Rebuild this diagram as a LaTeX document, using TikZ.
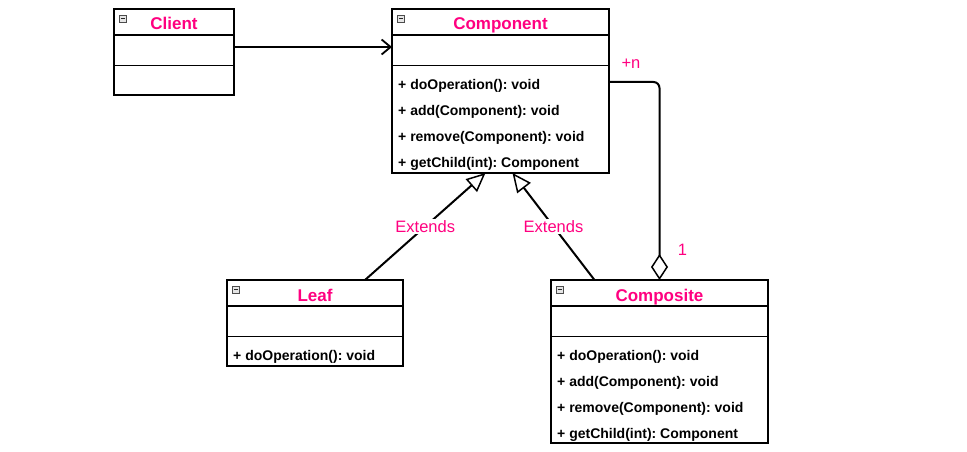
\documentclass[tikz,border=0pt]{standalone}
\usepackage{fontspec}
\setmainfont{Liberation Sans}
\usetikzlibrary{arrows.meta}
\definecolor{umlpink}{RGB}{255,0,128}
\frenchspacing

\begin{document}
\begin{tikzpicture}[x=1pt, y=-1pt,
  classbox/.style={draw, line width=2pt, inner sep=0pt, outer sep=0pt, anchor=north west},
  classname/.style={anchor=base, inner sep=0pt, text=umlpink, font=\fontsize{17}{20}\selectfont\bfseries},
  member/.style={anchor=base west, inner sep=0pt, font=\fontsize{14}{16}\selectfont\bfseries},
  collapse/.style={draw=gray!60!black, fill=gray!20, line width=0.6pt, minimum size=7pt, inner sep=0pt, anchor=north west,
    path picture={\draw[gray!30!black, line width=0.8pt] ([xshift=1.6pt]path picture bounding box.west) -- ([xshift=-1.6pt]path picture bounding box.east);}},
  tag/.style={text=umlpink, inner sep=1pt, font=\fontsize{16.5}{19}\selectfont},
  assoc/.style={line width=2pt, -{Straight Barb[length=9pt, width=15pt, line width=1.8pt]}},
  extends/.style={line width=2pt, -{Triangle[length=19pt, width=17pt, line width=1.5pt, fill=white]}},
  aggr/.style={line width=2pt, {Diamond[length=26pt, width=17pt, line width=1.5pt, fill=white]}-, rounded corners=6pt}
]
\fill[white] (0,0) rectangle (967,452);
\path[use as bounding box] (0,0) rectangle (967,452);

% Client
\node[classbox, minimum width=120pt, minimum height=86pt] (client) at (114,9) {};
\node[classname] (clientname) at ([yshift=-21pt]client.north) {Client};
\node[collapse] (clienticon) at ([shift={(5pt,-6pt)}]client.north west) {};
\draw[line width=2pt] ([yshift=-26pt]client.north west) -- ([yshift=-26pt]client.north east);
\draw[line width=0.8pt] ([yshift=-56pt]client.north west) -- ([yshift=-56pt]client.north east);

% Component
\node[classbox, minimum width=217pt, minimum height=164pt] (component) at (392,9) {};
\node[classname] (componentname) at ([yshift=-21pt]component.north) {Component};
\node[collapse] (componenticon) at ([shift={(5pt,-6pt)}]component.north west) {};
\draw[line width=2pt] ([yshift=-26pt]component.north west) -- ([yshift=-26pt]component.north east);
\draw[line width=0.8pt] ([yshift=-56pt]component.north west) -- ([yshift=-56pt]component.north east);
\foreach \m [count=\i from 0] in {+ doOperation(): void, + add(Component): void, + remove(Component): void, + getChild(int): Component}
  \node[member] (componentop\i) at ([xshift=6pt, yshift={-80-26*\i}]component.north west) {\m};

% Leaf
\node[classbox, minimum width=176pt, minimum height=86pt] (leaf) at (227,280) {};
\node[classname] (leafname) at ([yshift=-21pt]leaf.north) {Leaf};
\node[collapse] (leaficon) at ([shift={(5pt,-6pt)}]leaf.north west) {};
\draw[line width=2pt] ([yshift=-26pt]leaf.north west) -- ([yshift=-26pt]leaf.north east);
\draw[line width=0.8pt] ([yshift=-56pt]leaf.north west) -- ([yshift=-56pt]leaf.north east);
\node[member] (leafop0) at ([xshift=6pt, yshift=-80pt]leaf.north west) {+ doOperation(): void};

% Composite
\node[classbox, minimum width=217pt, minimum height=163pt] (composite) at (551,280) {};
\node[classname] (compositename) at ([yshift=-21pt]composite.north) {Composite};
\node[collapse] (compositeicon) at ([shift={(5pt,-6pt)}]composite.north west) {};
\draw[line width=2pt] ([yshift=-26pt]composite.north west) -- ([yshift=-26pt]composite.north east);
\draw[line width=0.8pt] ([yshift=-56pt]composite.north west) -- ([yshift=-56pt]composite.north east);
\foreach \m [count=\i from 0] in {+ doOperation(): void, + add(Component): void, + remove(Component): void, + getChild(int): Component}
  \node[member] (compositeop\i) at ([xshift=6pt, yshift={-80-26*\i}]composite.north west) {\m};

% relations
\draw[assoc] ([yshift=5pt]client.east) -- ([yshift=5pt]client.east -| component.west);
\draw[extends] ([xshift=50pt]leaf.north) -- node[tag, fill=white] (leafext) {Extends} ([xshift=-15pt]component.south);
\draw[extends] ([xshift=-65pt]composite.north) -- node[tag, fill=white] (compositeext) {Extends} ([xshift=12pt]component.south);
\draw[aggr] (composite.north) |- ([yshift=9pt]component.east);
\node[tag] (many) at ([shift={(22pt,27pt)}]component.east) {+n};
\node[tag] (one) at ([shift={(23pt,30pt)}]composite.north) {1};
\end{tikzpicture}
\end{document}
